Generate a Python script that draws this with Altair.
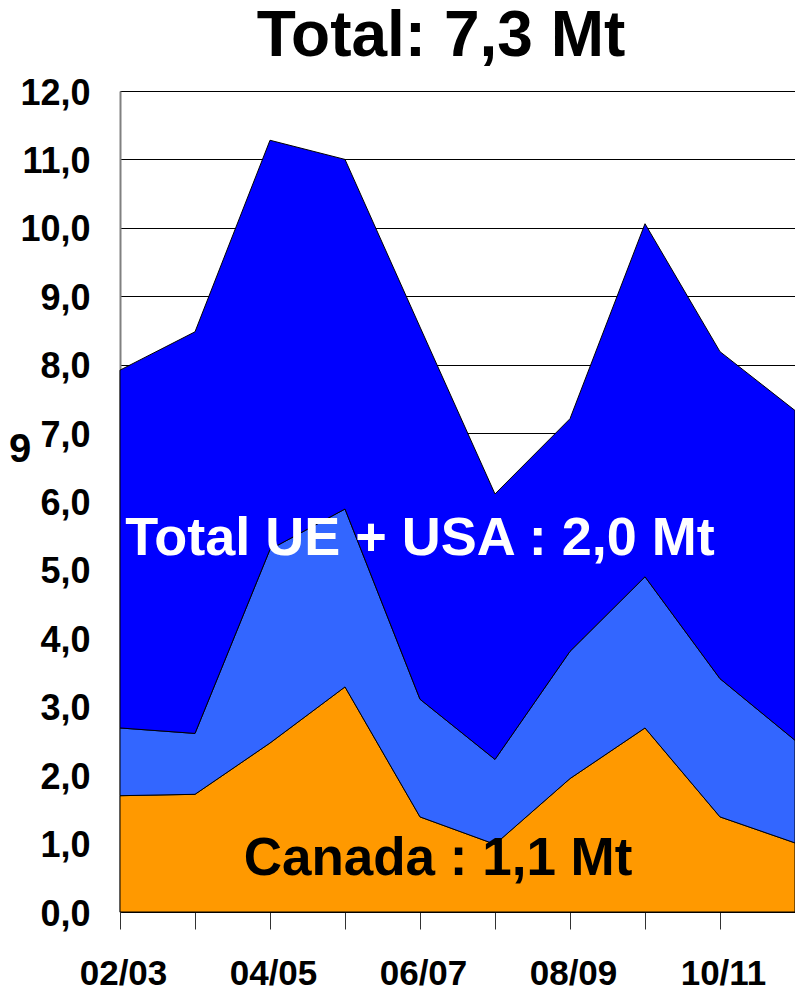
import altair as alt
import pandas as pd

seasons = ["02/03", "03/04", "04/05", "05/06", "06/07", "07/08", "08/09", "09/10", "10/11", "11/12"]
shown_labels = ["02/03", "04/05", "06/07", "08/09", "10/11"]
canada = [1.70, 1.72, 2.47, 3.29, 1.39, 0.99, 1.95, 2.69, 1.39, 1.01]
ue_usa = [0.99, 0.89, 2.83, 2.60, 1.72, 1.24, 1.86, 2.21, 2.02, 1.50]
autres = [5.23, 5.87, 5.98, 5.11, 5.44, 3.88, 3.40, 5.16, 4.78, 4.82]
series_names = ["Canada", "UE + USA", "Autres"]
series_colors = ["#FF9900", "#3366FF", "#0000FF"]
y_ticks = list(range(0, 13))

title_text = "Total: 7,3 Mt"
label_ue = "Total UE + USA : 2,0 Mt"
label_canada = "Canada : 1,1 Mt"
cut_text = "9"

rows = []
for i, s in enumerate(seasons):
    for k, (name, vals) in enumerate(zip(series_names, [canada, ue_usa, autres])):
        rows.append({"season": s, "series": name, "value": vals[i], "ord": k})
df = pd.DataFrame(rows)

FONT = "Liberation Sans, Arial, sans-serif"

W, H = 675, 821

label_expr = "indexof(" + str(shown_labels).replace('"', "'") + ", datum.value) >= 0 ? datum.value : ''"

area = alt.Chart(df).mark_area(stroke="black", strokeWidth=1, interpolate="linear", opacity=1).encode(
    x=alt.X("season:O", sort=seasons, title=None,
            scale=alt.Scale(type="point", padding=0),
            axis=alt.Axis(labelExpr=label_expr, labelAngle=0, tickSize=17, tickColor="#333333",
                          tickWidth=1, domainColor="black", domainWidth=1,
                          labelFont=FONT, labelFontSize=35, labelFontWeight="bold",
                          labelColor="black", labelPadding=55, labelBaseline="alphabetic",
                          labelAlign="center", labelOffset=3, grid=False)),
    y=alt.Y("value:Q", stack="zero", title=None,
            scale=alt.Scale(domain=[0, 12], nice=False, zero=True),
            axis=alt.Axis(values=y_ticks,
                          labelExpr="replace(format(datum.value, '.1f'), '.', ',')",
                          grid=True, gridColor="black", gridWidth=1, gridOpacity=1,
                          domainColor="#808080", domainWidth=2, tickSize=0,
                          labelFont=FONT, labelFontSize=36, labelFontWeight="bold",
                          labelColor="black", labelPadding=30, labelBaseline="middle",
                          labelOffset=2)),
    color=alt.Color("series:N", scale=alt.Scale(domain=series_names, range=series_colors), legend=None),
    order=alt.Order("ord:Q"),
)

def txt(t, x, y, size, color, align="center"):
    return alt.Chart(pd.DataFrame({"t": [t]})).mark_text(
        font=FONT, fontSize=size, fontWeight="bold", color=color, align=align, baseline="alphabetic"
    ).encode(text="t:N", x=alt.value(x), y=alt.value(y))

title = txt(title_text, 321, -35, 64, "black")
ue = txt(label_ue, 300, 464, 54, "white")
can = txt(label_canada, 318, 784, 53, "black")
nine = txt(cut_text, -111, 371, 40, "black", align="left")

chart = alt.layer(area, title, ue, can, nine).properties(
    width=W, height=H,
    autosize=alt.AutoSizeParams(type="none"),
    padding={"left": 112, "top": 83, "right": 0, "bottom": 80},
    background="white",
).configure_view(stroke="#808080", strokeWidth=1)

chart.save("out.html", embed_options={"renderer": "svg", "actions": False})
